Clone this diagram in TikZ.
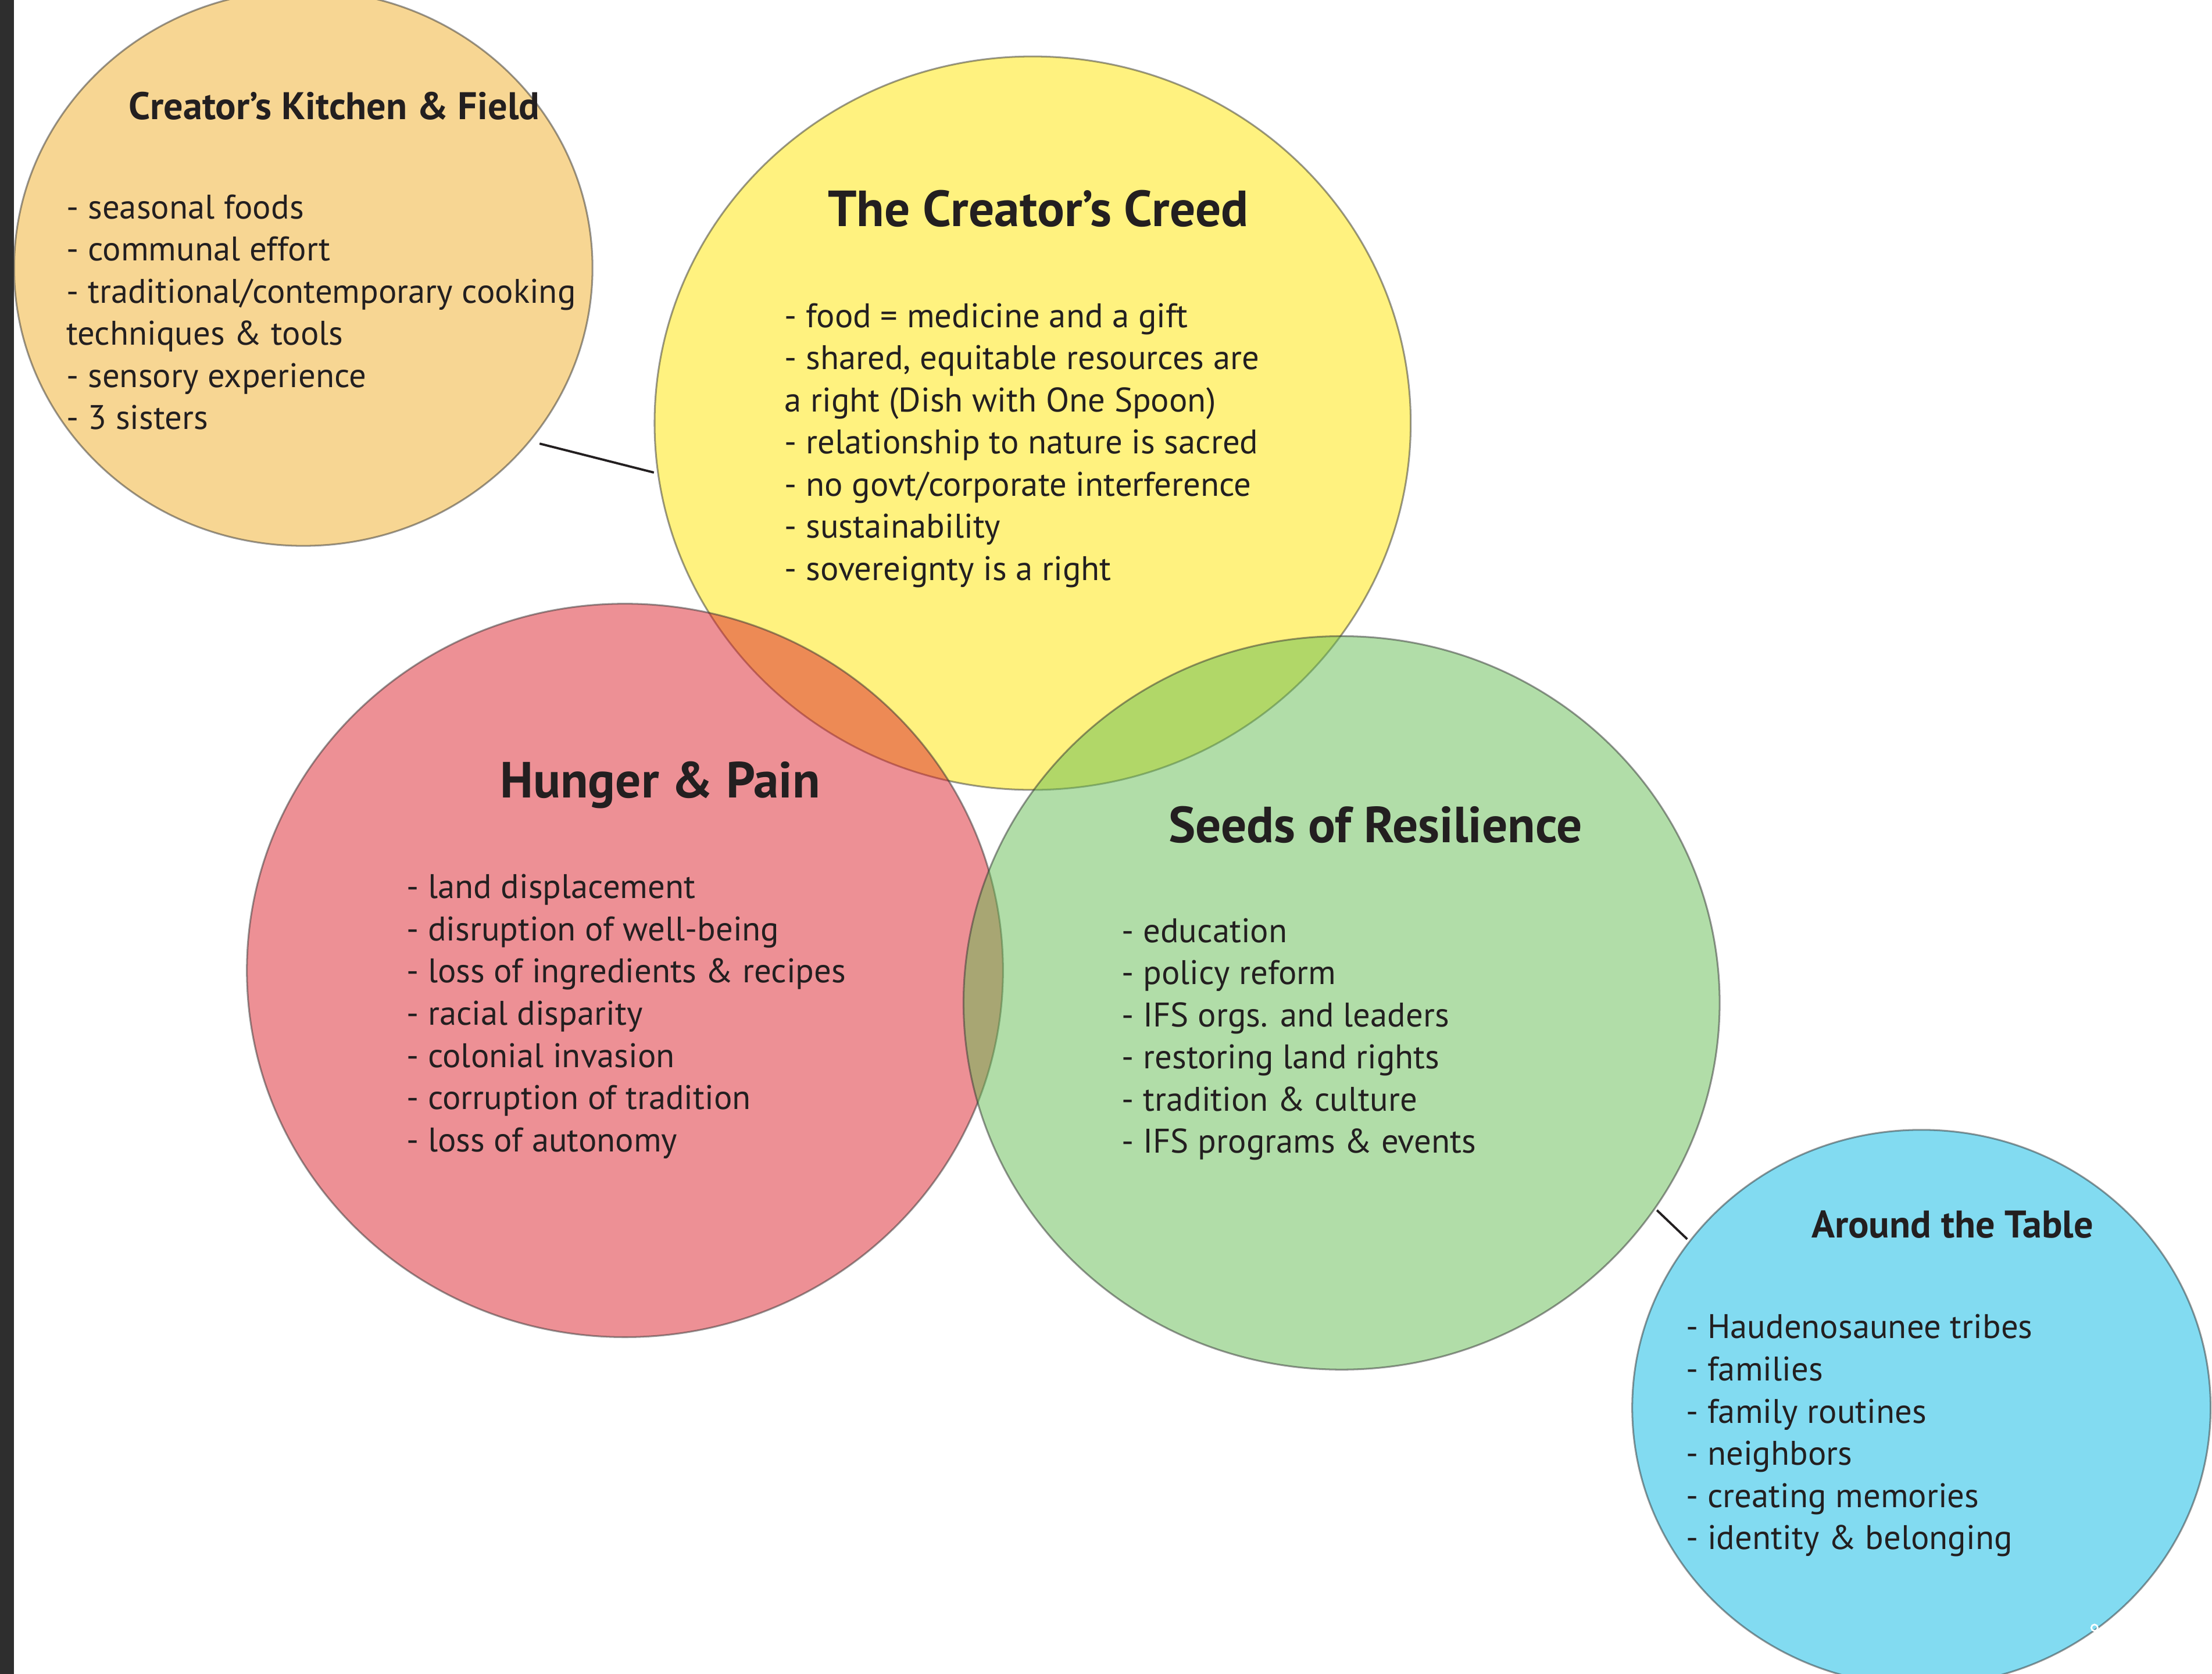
\documentclass[tikz,border=0pt]{standalone}
\usepackage{fontspec}
\setmainfont{PT Sans}
\usetikzlibrary{shapes.geometric}
\definecolor{txt}{HTML}{231F20}
\definecolor{leftbar}{HTML}{2E2E2E}
\definecolor{cyel}{RGB}{255,231,1}
\definecolor{cred}{RGB}{221,35,45}
\definecolor{cgrn}{RGB}{101,189,83}
\definecolor{corg}{RGB}{241,175,41}
\definecolor{cblu}{RGB}{7,185,229}
\definecolor{cstroke}{RGB}{51,51,51}
\tikzset{
  bubble/.style={ellipse, inner sep=0pt, fill opacity=0.5, draw opacity=0.5,
    draw=cstroke, line width=1.25pt},
  big/.style={bubble, minimum width=536pt, minimum height=520pt},
  small/.style={bubble, minimum width=410pt, minimum height=394pt},
  body/.style={inner sep=0pt, anchor=base west, text=txt, font=\fontsize{24.2}{30}\selectfont},
  bigtitle/.style={inner sep=0pt, anchor=base, text=txt, font=\fontsize{36}{42}\selectfont\bfseries},
  smalltitle/.style={inner sep=0pt, anchor=base, text=txt, font=\fontsize{27.3}{32}\selectfont\bfseries},
  conn/.style={draw=txt, line width=1.6pt}
}
\begin{document}
\begin{tikzpicture}[x=1pt,y=-1pt]
\useasboundingbox (0,0) rectangle (1568,1186.8);
\fill[white] (0,0) rectangle (1568,1186.8);
\fill[leftbar] (0,0) rectangle (10,1186.8);

% circles
\node[small, fill=corg] (kitchen) at (215,190) {};
\node[big, fill=cyel] (creed) at (732,300) {};
\node[big, fill=cred] (hunger) at (443,688) {};
\node[big, fill=cgrn] (seeds) at (951,711) {};
\node[small, fill=cblu] (table) at (1362,998) {};

% connectors
\coordinate (kA) at (382.5,314.5);
\coordinate (kB) at (463.5,335);
\draw[conn] (kA) -- (kB);
\coordinate (tA) at (1174.5,858);
\coordinate (tB) at (1196,878.5);
\draw[conn] (tA) -- (tB);

% small marker
\coordinate (mk) at (1484.7,1154);
\draw[white, line width=1.1pt] (mk) circle (2.3pt);

% titles
\node[smalltitle] (kitT) at (237,84.5) {Creator’s Kitchen \& Field};
\node[bigtitle] (creedT) at (736,160.5) {The Creator’s Creed};
\node[bigtitle] (hungerT) at (468,565.5) {Hunger \& Pain};
\node[bigtitle] (seedsT) at (975,597.5) {Seeds of Resilience};
\node[smalltitle] (tableT) at (1384,877.5) {Around the Table};

% bodies
\foreach [count=\i] \t in {{- seasonal foods},{- communal effort},{- traditional/contemporary cooking},{techniques \& tools},{- sensory experience},{- 3 sisters}}
  \node[body] (kit\i) at (47,{155+29.9*(\i-1)}) {\t};
\foreach [count=\i] \t in {{- food = medicine and a gift},{- shared, equitable resources are},{a right (Dish with One Spoon)},{- relationship to nature is sacred},{- no govt/corporate interference},{- sustainability},{- sovereignty is a right}}
  \node[body] (creed\i) at (556,{232+29.9*(\i-1)}) {\t};
\foreach [count=\i] \t in {{- land displacement},{- disruption of well-being},{- loss of ingredients \& recipes},{- racial disparity},{- colonial invasion},{- corruption of tradition},{- loss of autonomy}}
  \node[body] (hun\i) at (288,{637+29.9*(\i-1)}) {\t};
\foreach [count=\i] \t in {{- education},{- policy reform},{- IFS orgs. and leaders},{- restoring land rights},{- tradition \& culture},{- IFS programs \& events}}
  \node[body] (seed\i) at (795,{668+29.9*(\i-1)}) {\t};
\foreach [count=\i] \t in {{- Haudenosaunee tribes},{- families},{- family routines},{- neighbors},{- creating memories},{- identity \& belonging}}
  \node[body] (tab\i) at (1195,{949+29.9*(\i-1)}) {\t};
\end{tikzpicture}
\end{document}
